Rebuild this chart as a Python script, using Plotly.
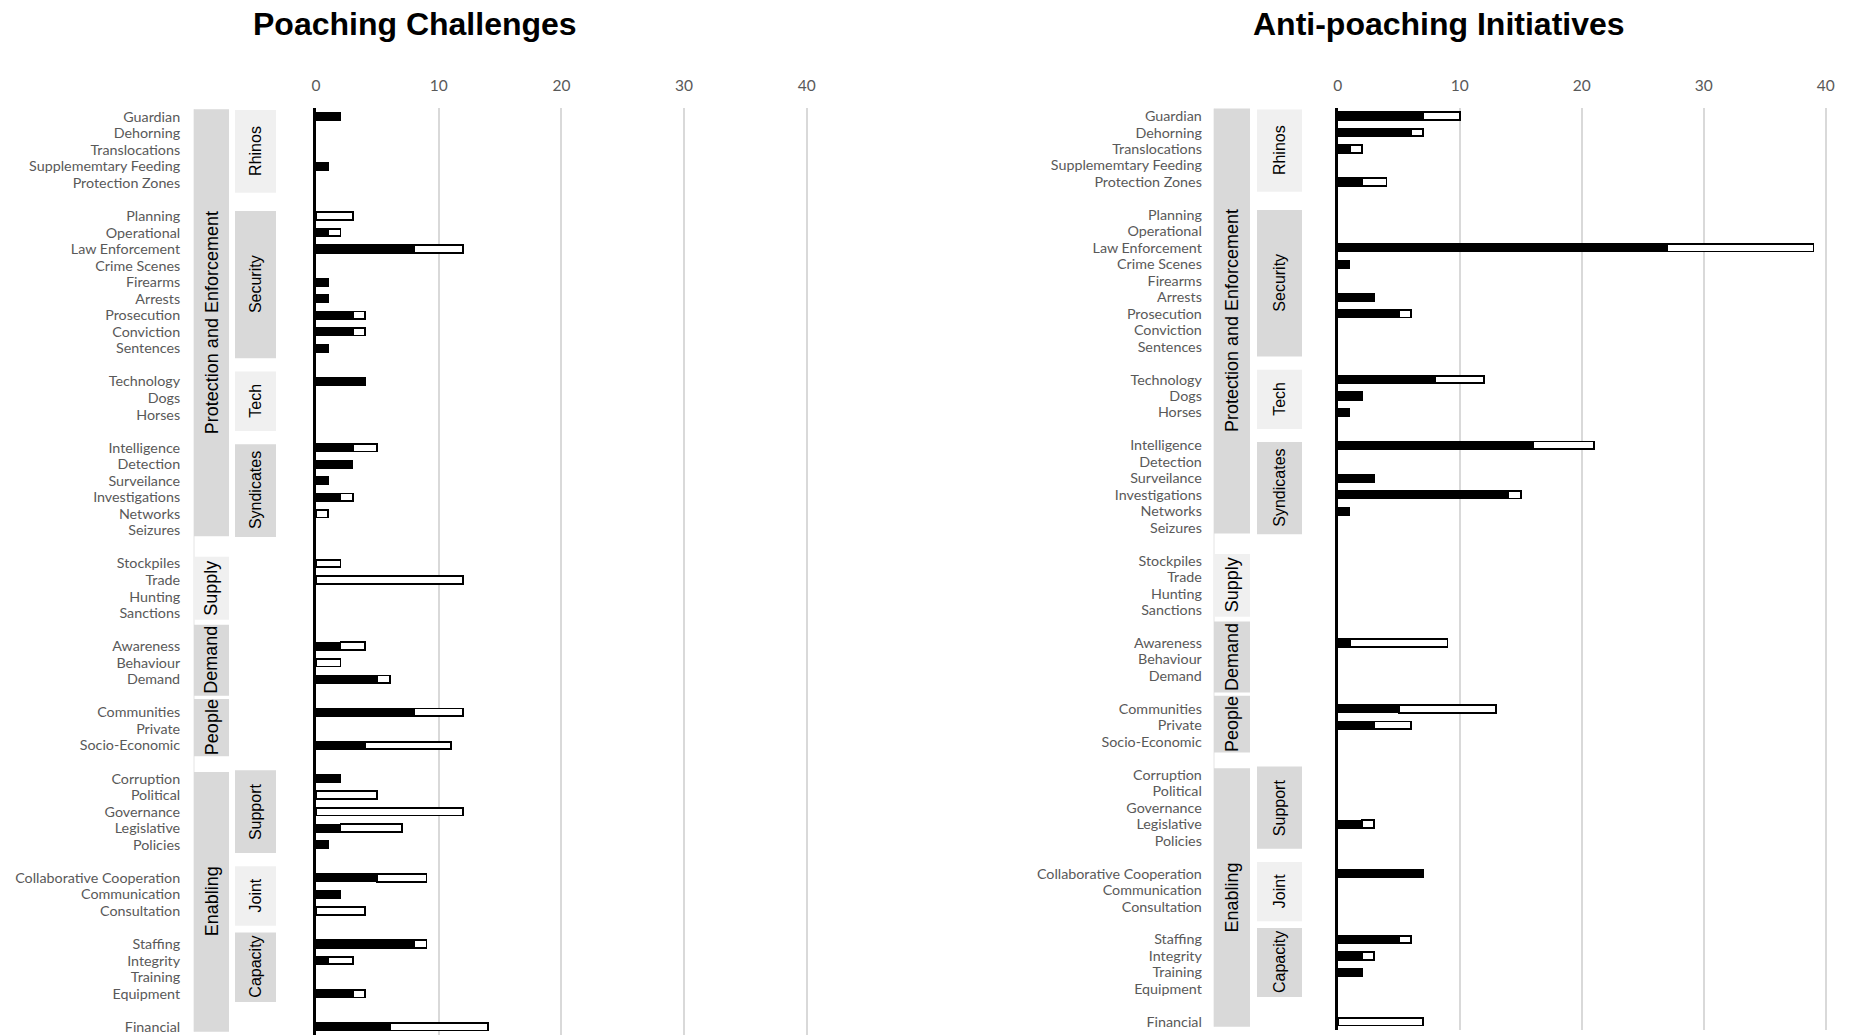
import plotly.graph_objects as go

# ---------------- data ----------------
rhinos = ["Guardian", "Dehorning", "Translocations", "Supplememtary Feeding", "Protection Zones"]
security = ["Planning", "Operational", "Law Enforcement", "Crime Scenes", "Firearms", "Arrests",
            "Prosecution", "Conviction", "Sentences"]
tech = ["Technology", "Dogs", "Horses"]
syndicates = ["Intelligence", "Detection", "Surveilance", "Investigations", "Networks", "Seizures"]
supply = ["Stockpiles", "Trade", "Hunting", "Sanctions"]
demand = ["Awareness", "Behaviour", "Demand"]
people = ["Communities", "Private", "Socio-Economic"]
support = ["Corruption", "Political", "Governance", "Legislative", "Policies"]
joint = ["Collaborative Cooperation", "Communication", "Consultation"]
capacity = ["Staffing", "Integrity", "Training", "Equipment"]
other = ["Financial"]

# Poaching Challenges (black part, white part)
challenges_black = [2, 0, 0, 1, 0,
                    0, 1, 8, 0, 1, 1, 3, 3, 1,
                    4, 0, 0,
                    3, 3, 1, 2, 0, 0,
                    0, 0, 0, 0,
                    2, 0, 5,
                    8, 0, 4,
                    2, 0, 0, 2, 1,
                    5, 2, 0,
                    8, 1, 0, 3,
                    6]
challenges_white = [0, 0, 0, 0, 0,
                    3, 1, 4, 0, 0, 0, 1, 1, 0,
                    0, 0, 0,
                    2, 0, 0, 1, 1, 0,
                    2, 12, 0, 0,
                    2, 2, 1,
                    4, 0, 7,
                    0, 5, 12, 5, 0,
                    4, 0, 4,
                    1, 2, 0, 1,
                    8]
# Anti-poaching Initiatives
initiatives_black = [7, 6, 1, 0, 2,
                     0, 0, 27, 1, 0, 3, 5, 0, 0,
                     8, 2, 1,
                     16, 0, 3, 14, 1, 0,
                     0, 0, 0, 0,
                     1, 0, 0,
                     5, 3, 0,
                     0, 0, 0, 2, 0,
                     7, 0, 0,
                     5, 2, 2, 0,
                     0]
initiatives_white = [3, 1, 1, 0, 2,
                     0, 0, 12, 0, 0, 0, 1, 0, 0,
                     4, 0, 0,
                     5, 0, 0, 1, 0, 0,
                     0, 0, 0, 0,
                     8, 0, 0,
                     8, 3, 0,
                     0, 0, 0, 1, 0,
                     0, 0, 0,
                     1, 1, 0, 0,
                     7]

x_ticks = [0, 10, 20, 30, 40]
titles = ["Poaching Challenges", "Anti-poaching Initiatives"]

# ---------------- layout helpers ----------------
W, H = 1852, 1035
DARK, LIGHT = "#d9d9d9", "#f0f0f0"
LABEL_FONT = "Lato"
BOX_FONT = "Liberation Sans, Arial"

subgroups = [rhinos, security, tech, syndicates, supply, demand, people, support, joint, capacity, other]
labels, ypos = [], []
r = 0
for g in subgroups:
    for lab in g:
        labels.append(lab)
        ypos.append(r)
        r += 1
    r += 1
nrows = ypos[-1] + 1

# (text, level, y0, y1, shade) in row units
boxes = [
    ("Protection and Enforcement", 0, -0.45, 25.35, DARK),
    ("Supply", 0, 26.6, 30.4, LIGHT),
    ("Demand", 0, 30.7, 35.0, DARK),
    ("People", 0, 35.2, 38.65, DARK),
    ("Enabling", 0, 39.6, 55.3, DARK),
    ("Rhinos", 1, -0.4, 4.6, LIGHT),
    ("Security", 1, 5.7, 14.6, DARK),
    ("Tech", 1, 15.4, 19.0, LIGHT),
    ("Syndicates", 1, 19.8, 25.4, DARK),
    ("Support", 1, 39.5, 44.5, DARK),
    ("Joint", 1, 45.3, 48.9, LIGHT),
    ("Capacity", 1, 49.3, 53.5, DARK),
]

panels = [
    dict(xa="x", ya="y", x0=316.0, unit=12.27, top=108.4, bottom=1035.0,
         outer=(194, 229), inner=(235, 276), tcx=415,
         black=challenges_black, white=challenges_white),
    dict(xa="x2", ya="y2", x0=1337.7, unit=12.2, top=107.8, bottom=1030.0,
         outer=(1214, 1250), inner=(1257, 1302), tcx=1439,
         black=initiatives_black, white=initiatives_white),
]

XMAX = 40.3

fig = go.Figure()
shapes, annotations = [], []
layout_axes = {}

for i, p in enumerate(panels):
    nz = lambda v: [x if x else None for x in v]
    fig.add_trace(go.Bar(y=ypos, x=nz(p["black"]), orientation="h", width=0.5,
                         marker=dict(color="black", line=dict(color="black", width=1)),
                         xaxis=p["xa"], yaxis=p["ya"], showlegend=False, hoverinfo="x+y"))
    fig.add_trace(go.Bar(y=ypos, x=nz(p["white"]), orientation="h", width=0.46,
                         marker=dict(color="white", line=dict(color="black", width=1.8)),
                         xaxis=p["xa"], yaxis=p["ya"], showlegend=False, hoverinfo="x+y"))

    xkey = "xaxis" if i == 0 else "xaxis2"
    ykey = "yaxis" if i == 0 else "yaxis2"
    layout_axes[xkey] = dict(
        domain=[p["x0"] / W, (p["x0"] + XMAX * p["unit"]) / W],
        range=[0, XMAX], anchor=p["ya"], side="top",
        tickvals=x_ticks, showgrid=True, gridcolor="#d9d9d9", gridwidth=1.5,
        zeroline=False, showline=False, ticks="", automargin=False,
        tickfont=dict(family=LABEL_FONT, size=15.5, color="#595959"),
        ticklabelstandoff=13, fixedrange=True,
    )
    layout_axes[ykey] = dict(
        domain=[1 - p["bottom"] / H, 1 - p["top"] / H],
        range=[nrows - 0.5, -0.5], anchor=p["xa"],
        tickvals=ypos, ticktext=labels, ticks="", showgrid=False, zeroline=False,
        showline=True, linecolor="black", linewidth=3, automargin=False,
        tickfont=dict(family=LABEL_FONT, size=14.3, color="#595959"),
        ticklabelstandoff=130, fixedrange=True,
    )

    # faint outline at left of outer column
    shapes.append(dict(type="line", xref="paper", yref=p["ya"],
                       x0=p["outer"][0] / W, x1=p["outer"][0] / W, y0=-0.45, y1=55.3,
                       line=dict(color="#e4e4e4", width=1), layer="below"))
    for text, lvl, y0, y1, shade in boxes:
        xs = p["outer"] if lvl == 0 else p["inner"]
        shapes.append(dict(type="rect", xref="paper", yref=p["ya"],
                           x0=xs[0] / W, x1=xs[1] / W, y0=y0, y1=y1,
                           fillcolor=shade, line=dict(width=0), layer="below"))
        annotations.append(dict(xref="paper", yref=p["ya"], x=(xs[0] + xs[1]) / 2 / W,
                                y=(y0 + y1) / 2, text=text, textangle=-90, showarrow=False,
                                xanchor="center", yanchor="middle",
                                font=dict(family=BOX_FONT, size=18 if lvl == 0 else 16,
                                          color="black")))
    annotations.append(dict(xref="paper", yref="paper", x=p["tcx"] / W, y=1 - 24 / H,
                            text="<b>%s</b>" % titles[i], showarrow=False,
                            xanchor="center", yanchor="middle",
                            font=dict(family=BOX_FONT, size=32, color="black")))

fig.update_layout(
    width=W, height=H, margin=dict(l=0, r=0, t=0, b=0),
    template="none", barmode="stack", bargap=0.5,
    plot_bgcolor="white", paper_bgcolor="white",
    shapes=shapes, annotations=annotations, showlegend=False,
    **layout_axes,
)

fig.write_html("out.html", config={"displayModeBar": False},
               post_script="document.body.style.margin='0';document.body.style.overflow='hidden';")
